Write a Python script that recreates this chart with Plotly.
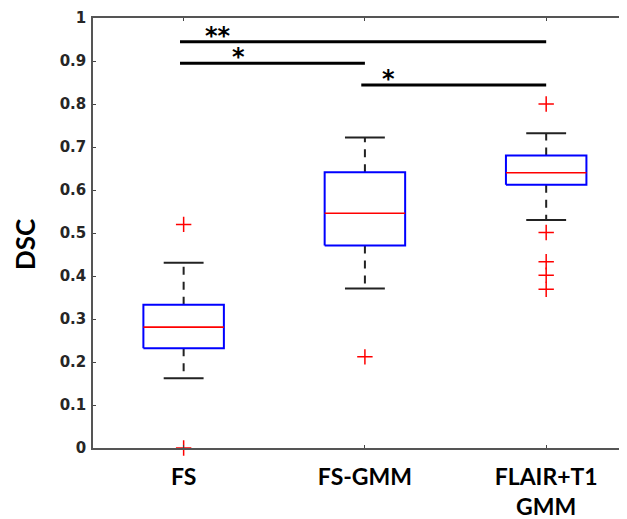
import plotly.graph_objects as go

# ---- data ----
categories = ["FS", "FS-GMM", "FLAIR+T1<br>GMM"]
positions = [1, 2, 3]
q1 = [0.232, 0.471, 0.612]
median = [0.281, 0.546, 0.640]
q3 = [0.333, 0.641, 0.680]
whisker_low = [0.162, 0.371, 0.530]
whisker_high = [0.431, 0.722, 0.732]
outliers = [[0.0, 0.52], [0.212], [0.80, 0.501, 0.433, 0.402, 0.369]]

# significance brackets: (start category, end category, level, label)
sig_start = [1, 1, 2]
sig_end = [3, 2, 3]
sig_level = [0.945, 0.895, 0.844]
sig_label = ["**", "*", "*"]
sig_label_x = [1.19, 1.30, 2.13]

y_ticks = [0, 0.1, 0.2, 0.3, 0.4, 0.5, 0.6, 0.7, 0.8, 0.9, 1]
y_tick_text = ["0", "0.1", "0.2", "0.3", "0.4", "0.5", "0.6", "0.7", "0.8", "0.9", "1"]

half_box = 0.222
half_cap = 0.11

fig = go.Figure()

for i, p in enumerate(positions):
    # whiskers (dashed)
    fig.add_trace(go.Scatter(x=[p, p, None, p, p], y=[q3[i], whisker_high[i], None, q1[i], whisker_low[i]],
                             mode="lines", line=dict(color="#222222", width=2, dash="8px,7px"),
                             hoverinfo="skip", showlegend=False))
    # caps
    fig.add_trace(go.Scatter(x=[p - half_cap, p + half_cap, None, p - half_cap, p + half_cap],
                             y=[whisker_high[i], whisker_high[i], None, whisker_low[i], whisker_low[i]],
                             mode="lines", line=dict(color="#222222", width=2),
                             hoverinfo="skip", showlegend=False))
    # box
    fig.add_trace(go.Scatter(x=[p - half_box, p + half_box, p + half_box, p - half_box, p - half_box],
                             y=[q1[i], q1[i], q3[i], q3[i], q1[i]],
                             mode="lines", line=dict(color="#0000ff", width=2),
                             fill="toself", fillcolor="white",
                             hoverinfo="skip", showlegend=False))
    # median
    fig.add_trace(go.Scatter(x=[p - half_box, p + half_box], y=[median[i], median[i]],
                             mode="lines", line=dict(color="#ff0000", width=1.6),
                             hoverinfo="skip", showlegend=False))
    # outliers
    fig.add_trace(go.Scatter(x=[p] * len(outliers[i]), y=outliers[i], mode="markers",
                             marker=dict(symbol="cross-thin", size=11,
                                         line=dict(color="#ff0000", width=1.5)),
                             cliponaxis=False, hoverinfo="skip", showlegend=False))

# significance lines
for s, e, lv, lb, lx in zip(sig_start, sig_end, sig_level, sig_label, sig_label_x):
    fig.add_trace(go.Scatter(x=[s - 0.02, e], y=[lv, lv], mode="lines",
                             line=dict(color="black", width=3),
                             hoverinfo="skip", showlegend=False))
    fig.add_annotation(x=lx, y=lv, text="<b>" + lb + "</b>", showarrow=False,
                       yanchor="bottom", yshift=-10,
                       font=dict(family="DejaVu Sans", size=24, color="black"))

# y-axis title as annotation for exact placement
fig.add_annotation(xref="paper", yref="paper", x=0, y=0.5, xshift=-68, yshift=-12,
                   xanchor="center", yanchor="middle",
                   text="<b>DSC</b>", textangle=-90, showarrow=False,
                   font=dict(family="Lato", size=26, color="black"))

fig.update_layout(
    width=627, height=519,
    margin=dict(l=85, r=0, t=10, b=79),
    plot_bgcolor="white", paper_bgcolor="white",
    xaxis=dict(range=[0.5, 3.49], tickvals=positions, ticktext=["<b>" + c.replace("<br>", "</b><br><b>") + "</b>" for c in categories],
               ticks="inside", ticklen=3, tickwidth=1, tickcolor="#444",
               showline=True, linecolor="#555", linewidth=1.5, mirror="ticks",
               showgrid=False, zeroline=False, automargin=False,
               tickfont=dict(family="Lato", size=23, color="black"), ticklabelstandoff=8),
    yaxis=dict(range=[0, 1], tickvals=y_ticks, ticktext=["<b>" + t + "</b>" for t in y_tick_text],
               ticks="inside", ticklen=3, tickwidth=1, tickcolor="#444",
               showline=True, linecolor="#555", linewidth=1.5,
               showgrid=False, zeroline=False, automargin=False,
               tickfont=dict(family="DejaVu Sans", size=15, color="#262626"), ticklabelstandoff=2),
)

fig.write_html("out.html")
